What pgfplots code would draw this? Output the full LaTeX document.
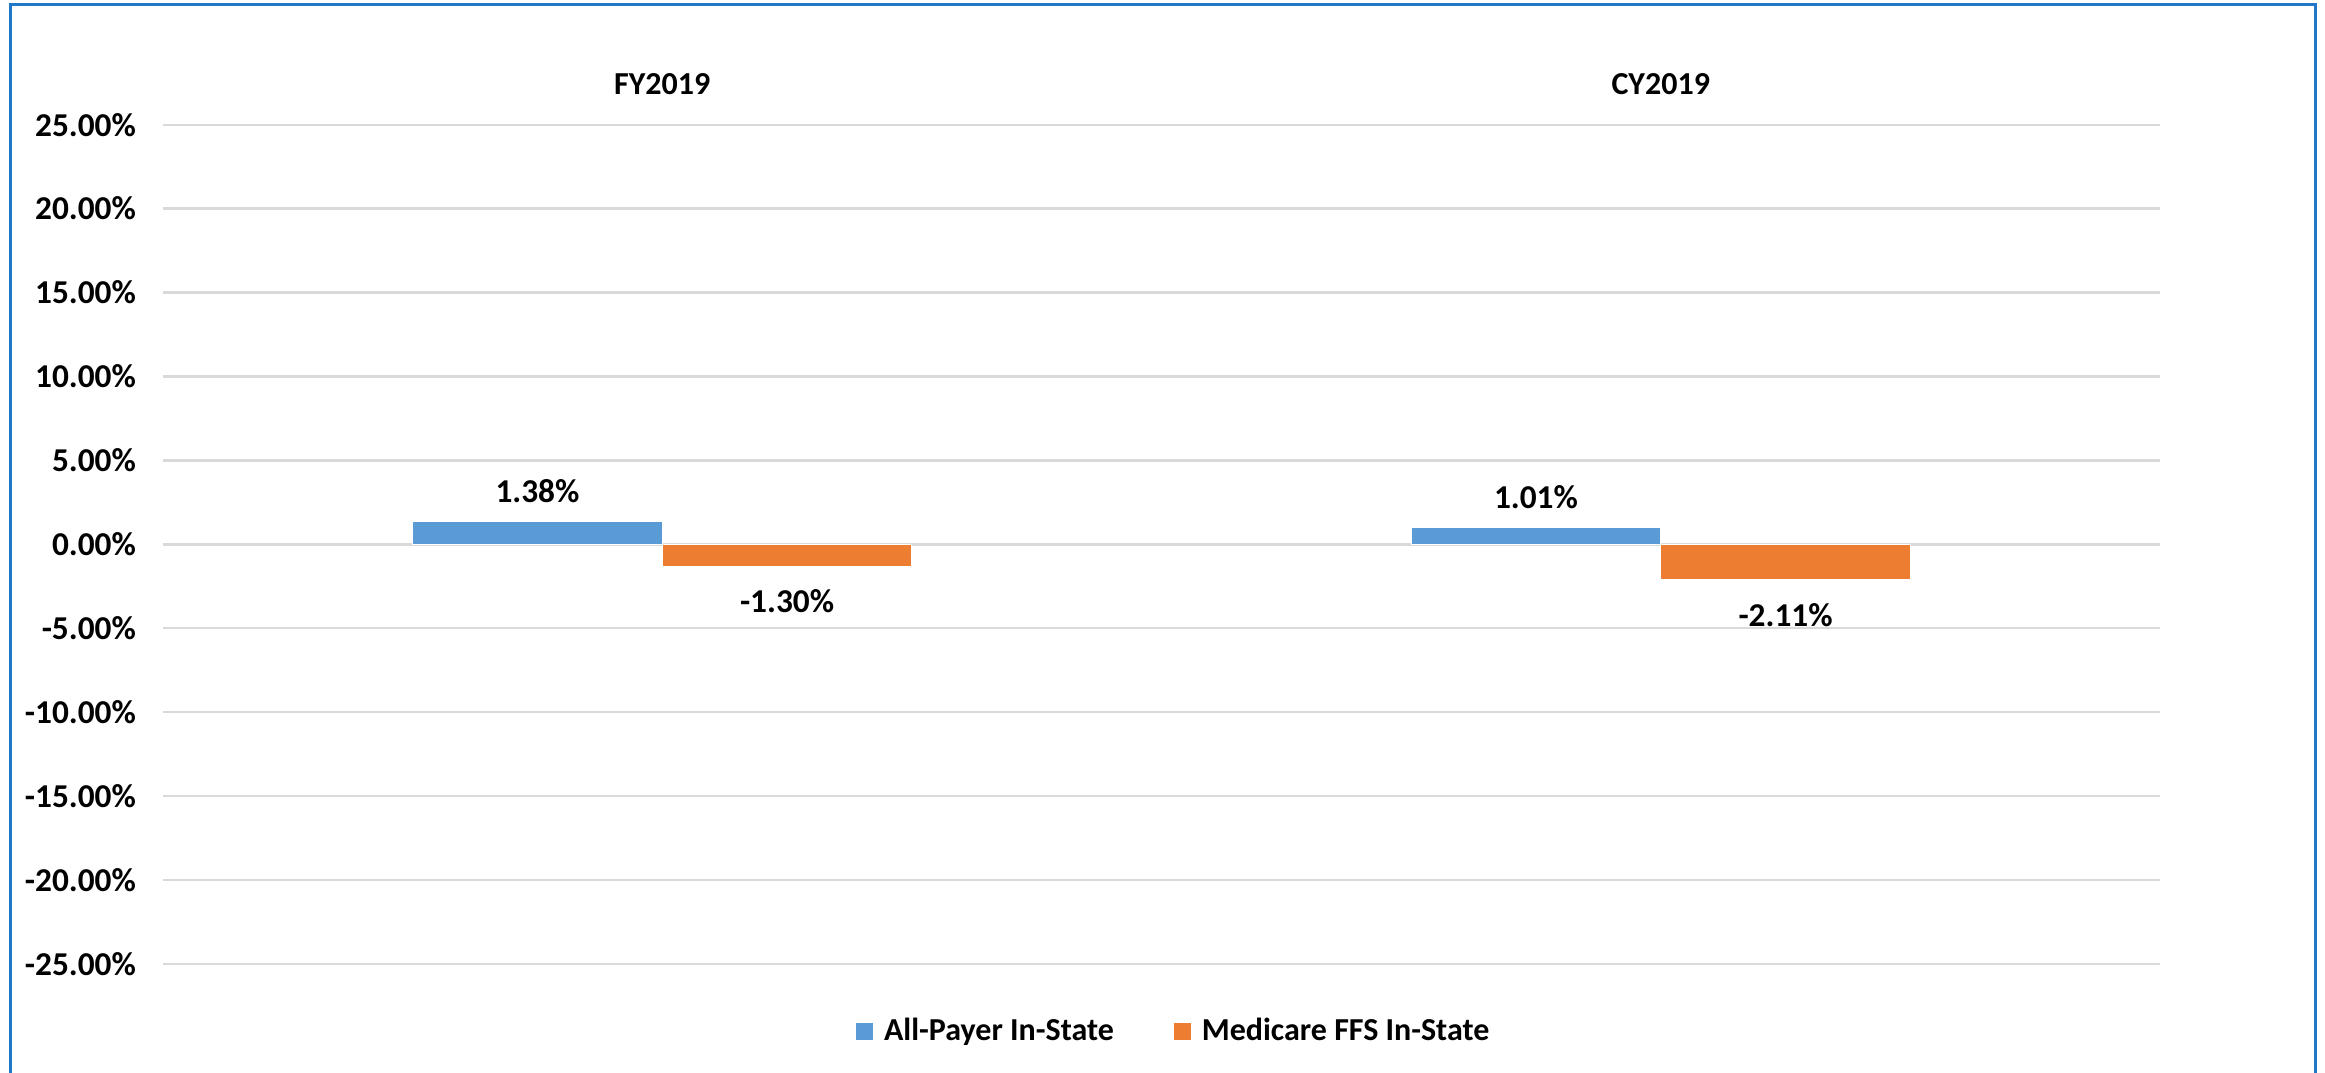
\documentclass[border=0pt]{standalone}
\usepackage{fontspec}
\setmainfont{Carlito}
\usepackage{pgfplots}
\pgfplotsset{compat=1.18}
\definecolor{barblue}{HTML}{5B9BD5}
\definecolor{barorange}{HTML}{ED7D31}
\definecolor{gridgray}{HTML}{D9D9D9}
\definecolor{framecol}{HTML}{1F78C8}
\newcommand{\numfont}{\bfseries\fontsize{10pt}{12pt}\selectfont}
\newcommand{\txtfont}{\bfseries\fontsize{9.6pt}{11.5pt}\selectfont}
\begin{document}
\begin{tikzpicture}
\useasboundingbox (0,0) rectangle (697.5pt,321.6pt);
\clip (0,0) rectangle (697.5pt,321.6pt);
\draw[framecol, line width=0.9pt] (3pt,-10pt) -- (3pt,320.1pt) -- (694.5pt,320.1pt) -- (694.5pt,-10pt);
\begin{axis}[
  at={(48.9pt,32.4pt)}, anchor=south west,
  scale only axis,
  width=599.1pt, height=251.8pt,
  xmin=-0.5, xmax=1.5,
  ymin=-25, ymax=25,
  ytick={-25,-20,...,25},
  xtick={0,1},
  xticklabels={FY2019,CY2019},
  xticklabel pos=upper,
  xticklabel style={font=\txtfont, yshift=5.5pt},
  yticklabel={\pgfmathprintnumber[fixed,fixed zerofill,precision=2]{\tick}\%},
  yticklabel style={font=\numfont, xshift=-4.6pt},
  /pgf/number format/assume math mode=true,
  axis line style={draw=none},
  tick style={draw=none},
  major tick length=0pt,
  ymajorgrids,
  grid style={gridgray, line width=0.7pt},
  ybar,
  bar width=0.25,
  legend columns=2,
  legend style={at={(0.5066,-0.081)}, anchor=center, draw=none, fill=none,
    font=\txtfont,
    /tikz/every odd column/.append style={column sep=1.5pt},
    /tikz/every even column/.append style={column sep=16.2pt},
    nodes={inner sep=1.5pt}},
  legend image code/.code={\fill[#1] (0pt,-2.7pt) rectangle (5.4pt,2.7pt);},
  nodes near coords={\pgfmathprintnumber[fixed,fixed zerofill,precision=2]{\pgfplotspointmeta}\%},
  every node near coord/.append style={font=\numfont, black},
]
\addplot[fill=barblue, draw=white, line width=0.3pt, bar shift=-0.125,
  every node near coord/.append style={anchor=south, yshift=2pt}]
  coordinates {(0,1.38) (1,1.01)};
\addlegendentry{All-Payer In-State}
\addplot[fill=barorange, draw=white, line width=0.3pt, bar shift=0.125,
  every node near coord/.append style={anchor=north, yshift=-3.5pt}]
  coordinates {(0,-1.30) (1,-2.11)};
\addlegendentry{Medicare FFS In-State}
\end{axis}
\end{tikzpicture}
\end{document}
